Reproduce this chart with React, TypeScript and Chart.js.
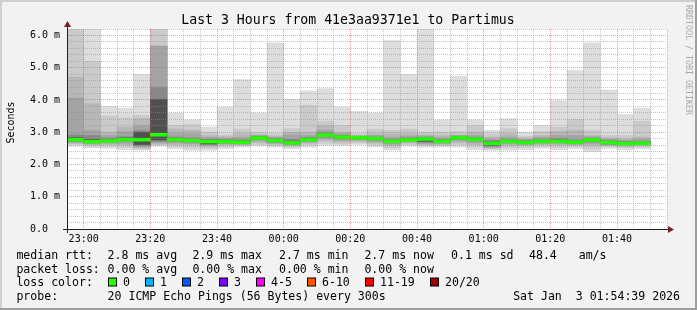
import React, { useEffect, useRef } from 'react';
import { Chart, registerables } from 'chart.js';

Chart.register(...registerables);

// ---------- text ----------
const TITLE = 'Last 3 Hours from 41e3aa9371e1 to Partimus';
const Y_TITLE = 'Seconds';
const WATERMARK = 'RRDTOOL / TOBI OETIKER';

// ---------- axis ----------
const AXIS_START = '22:55';
const AXIS_SPAN_MIN = 180;
const STEP_MIN = 5;
const Y_MAX = 6.2;
const Y_STEP = 0.2;
const majorTimeLabels = ['23:00', '23:20', '23:40', '00:00', '00:20', '00:40', '01:00', '01:20', '01:40'];
const yTickLabels = ['0.0', '1.0 m', '2.0 m', '3.0 m', '4.0 m', '5.0 m', '6.0 m'];

// ---------- data (ms), one value per 5-minute step ----------
const binTimes = [
  '22:55', '23:00', '23:05', '23:10', '23:15', '23:20', '23:25', '23:30', '23:35', '23:40', '23:45', '23:50',
  '23:55', '00:00', '00:05', '00:10', '00:15', '00:20', '00:25', '00:30', '00:35', '00:40', '00:45', '00:50',
  '00:55', '01:00', '01:05', '01:10', '01:15', '01:20', '01:25', '01:30', '01:35', '01:40', '01:45',
];
const medianMs = [2.77, 2.71, 2.73, 2.77, 2.77, 2.92, 2.77, 2.74, 2.71, 2.71, 2.69, 2.82, 2.74, 2.67, 2.77, 2.91, 2.85, 2.83, 2.80, 2.72, 2.76, 2.79, 2.72, 2.83, 2.78, 2.66, 2.72, 2.68, 2.72, 2.72, 2.69, 2.76, 2.68, 2.65, 2.66];
const maxMs = [6.3, 6.3, 3.80, 3.75, 4.79, 6.3, 3.60, 3.38, 3.16, 3.78, 4.63, 3.60, 5.77, 4.02, 4.28, 4.35, 3.78, 3.65, 3.60, 5.84, 4.79, 6.3, 3.38, 4.74, 3.38, 3.06, 3.42, 3.00, 3.21, 3.98, 4.91, 5.77, 4.31, 3.55, 3.75];
const p19Ms = [6.3, 5.2, 3.50, 3.45, 3.52, 6.3, 3.21, 3.23, 3.00, 2.92, 3.10, 3.00, 2.95, 3.11, 3.83, 3.34, 3.21, 2.95, 3.10, 3.06, 3.10, 3.00, 3.00, 3.02, 3.21, 2.95, 3.11, 2.87, 3.02, 3.16, 3.40, 3.06, 2.90, 2.90, 3.34];
const p18Ms = [4.71, 3.88, 3.00, 3.16, 3.42, 5.67, 3.10, 3.06, 2.90, 2.86, 2.95, 2.92, 2.88, 3.00, 3.00, 3.21, 3.00, 2.90, 2.95, 2.95, 2.95, 2.92, 2.90, 2.92, 3.00, 2.85, 2.95, 2.82, 2.90, 3.02, 3.06, 2.90, 2.82, 2.80, 2.85];
const p17Ms = [4.06, 3.06, 2.90, 3.02, 3.21, 5.67, 2.95, 2.95, 2.84, 2.82, 2.84, 2.90, 2.84, 2.92, 2.90, 3.06, 2.95, 2.88, 2.90, 2.85, 2.88, 2.88, 2.83, 2.90, 2.90, 2.78, 2.85, 2.78, 2.84, 2.90, 2.90, 2.86, 2.78, 2.75, 2.78];
const p15Ms = [2.92, 2.90, 2.82, 2.86, 3.05, 4.40, 2.85, 2.82, 2.78, 2.78, 2.76, 2.87, 2.80, 2.78, 2.84, 2.98, 2.90, 2.87, 2.85, 2.78, 2.82, 2.84, 2.78, 2.87, 2.84, 2.74, 2.78, 2.74, 2.78, 2.80, 2.76, 2.81, 2.74, 2.71, 2.72];
const p13Ms = [2.83, 2.78, 2.78, 2.82, 3.00, 4.02, 2.81, 2.78, 2.75, 2.75, 2.73, 2.85, 2.77, 2.72, 2.80, 2.94, 2.88, 2.85, 2.83, 2.75, 2.79, 2.82, 2.75, 2.85, 2.81, 2.71, 2.75, 2.72, 2.75, 2.76, 2.72, 2.79, 2.72, 2.69, 2.69];
const p8Ms = [2.75, 2.69, 2.71, 2.75, 2.62, 2.76, 2.74, 2.72, 2.64, 2.69, 2.67, 2.80, 2.72, 2.65, 2.75, 2.88, 2.82, 2.81, 2.78, 2.70, 2.75, 2.72, 2.70, 2.81, 2.76, 2.60, 2.70, 2.67, 2.70, 2.70, 2.67, 2.73, 2.65, 2.64, 2.64];
const p6Ms = [2.72, 2.67, 2.69, 2.72, 2.58, 2.72, 2.71, 2.69, 2.62, 2.67, 2.65, 2.77, 2.69, 2.63, 2.73, 2.85, 2.79, 2.79, 2.75, 2.67, 2.73, 2.69, 2.68, 2.78, 2.73, 2.57, 2.68, 2.65, 2.68, 2.68, 2.65, 2.70, 2.63, 2.62, 2.63];
const p4Ms = [2.69, 2.64, 2.66, 2.66, 2.55, 2.68, 2.67, 2.65, 2.59, 2.64, 2.63, 2.73, 2.66, 2.61, 2.70, 2.80, 2.75, 2.76, 2.71, 2.63, 2.71, 2.65, 2.65, 2.74, 2.68, 2.54, 2.64, 2.62, 2.65, 2.65, 2.63, 2.65, 2.61, 2.60, 2.61];
const p3Ms = [2.65, 2.61, 2.62, 2.60, 2.51, 2.64, 2.62, 2.60, 2.55, 2.60, 2.61, 2.68, 2.63, 2.58, 2.66, 2.74, 2.70, 2.72, 2.66, 2.58, 2.67, 2.61, 2.62, 2.68, 2.62, 2.51, 2.58, 2.58, 2.61, 2.60, 2.60, 2.58, 2.58, 2.56, 2.58];
const p2Ms = [2.62, 2.57, 2.56, 2.53, 2.48, 2.60, 2.55, 2.52, 2.50, 2.55, 2.58, 2.62, 2.58, 2.54, 2.60, 2.66, 2.64, 2.67, 2.60, 2.52, 2.62, 2.58, 2.58, 2.60, 2.55, 2.48, 2.52, 2.53, 2.56, 2.53, 2.55, 2.48, 2.55, 2.52, 2.54];
const minMs = [2.56, 2.52, 2.50, 2.46, 2.44, 2.57, 2.49, 2.44, 2.44, 2.49, 2.54, 2.57, 2.54, 2.49, 2.54, 2.59, 2.59, 2.62, 2.54, 2.44, 2.57, 2.54, 2.54, 2.54, 2.46, 2.44, 2.44, 2.46, 2.50, 2.46, 2.49, 2.40, 2.50, 2.46, 2.49];

// ---------- legend ----------
const rttLabel = 'median rtt:';
const rttStats = ['2.8 ms avg', '2.9 ms max', '2.7 ms min', '2.7 ms now', '0.1 ms sd', '48.4', 'am/s'];
const lossLabel = 'packet loss:';
const lossStats = ['0.00 % avg', '0.00 % max', '0.00 % min', '0.00 % now'];
const lossColorLabel = 'loss color:';
const lossColorNames = ['0', '1', '2', '3', '4-5', '6-10', '11-19', '20/20'];
const lossColors = ['#26ff00', '#00b8ff', '#0059ff', '#7e00ff', '#ff00ff', '#ff5500', '#ff0000', '#a10000'];
const probeLabel = 'probe:';
const probeText = '20 ICMP Echo Pings (56 Bytes) every 300s';
const dateText = 'Sat Jan  3 01:54:39 2026';

// ---------- layout constants ----------
const W = 697;
const H = 310;
const MONO = '"DejaVu Sans Mono", monospace';
const MEDIAN_HALF = 0.045;
const rttX = [107.6, 192.4, 279, 364.4, 451, 529, 578.7];
const lossX = [107.6, 192.4, 279, 364.4];
const boxX = [108, 145, 182, 219, 256, 307, 365, 430];

function startParts() {
  const [h, m] = AXIS_START.split(':').map(Number);
  return h * 60 + m;
}
function toMinutes(t: string) {
  const [h, m] = t.split(':').map(Number);
  return (h * 60 + m - startParts() + 1440) % 1440;
}
function fromMinutes(v: number) {
  const tot = (startParts() + Math.round(v)) % 1440;
  const h = Math.floor(tot / 60);
  const m = tot % 60;
  return String(h).padStart(2, '0') + ':' + String(m).padStart(2, '0');
}

const bands = [
  { lo: minMs, hi: maxMs, color: '#dddddd' },
  { lo: p2Ms, hi: p19Ms, color: '#cacaca' },
  { lo: p3Ms, hi: p18Ms, color: '#b7b7b7' },
  { lo: p4Ms, hi: p17Ms, color: '#a4a4a4' },
  { lo: p6Ms, hi: p15Ms, color: '#888888' },
  { lo: p8Ms, hi: p13Ms, color: '#505050' },
];

const rrdPlugin = {
  id: 'rrdFrame',
  beforeDraw(chart: any) {
    const { ctx, chartArea: a } = chart;
    ctx.save();
    ctx.fillStyle = '#f2f2f2';
    ctx.fillRect(0, 0, W, H);
    ctx.fillStyle = '#cfcfcf';
    ctx.fillRect(0, 0, W, 2);
    ctx.fillRect(0, 0, 2, H);
    ctx.fillStyle = '#9e9e9e';
    ctx.fillRect(0, H - 2, W, 2);
    ctx.fillRect(W - 2, 0, 2, H);
    ctx.fillStyle = '#ffffff';
    ctx.fillRect(a.left, a.top, a.right - a.left, a.bottom - a.top);
    ctx.restore();
  },
  afterDraw(chart: any) {
    const { ctx, chartArea: a } = chart;
    const x0 = Math.round(a.left);
    const yb = Math.round(a.bottom);
    ctx.save();
    // axes
    ctx.fillStyle = '#1f1f1f';
    ctx.fillRect(x0 - 4, yb, a.right - a.left + 8, 1);
    ctx.fillRect(x0, a.top - 4, 1, a.bottom - a.top + 8);
    // arrows
    ctx.fillStyle = '#7f1f1f';
    ctx.beginPath();
    ctx.moveTo(x0 + 0.5, a.top - 8);
    ctx.lineTo(x0 - 3, a.top - 2);
    ctx.lineTo(x0 + 4, a.top - 2);
    ctx.closePath();
    ctx.fill();
    ctx.beginPath();
    ctx.moveTo(a.right + 7, yb + 0.5);
    ctx.lineTo(a.right + 1, yb - 3);
    ctx.lineTo(a.right + 1, yb + 4);
    ctx.closePath();
    ctx.fill();

    // title
    ctx.fillStyle = '#000000';
    ctx.font = '13.2px ' + MONO;
    ctx.textAlign = 'center';
    ctx.textBaseline = 'alphabetic';
    ctx.fillText(TITLE, 348, 24);

    // y title
    ctx.save();
    ctx.font = '10px ' + MONO;
    ctx.translate(11, 122.5);
    ctx.rotate(-Math.PI / 2);
    ctx.textAlign = 'center';
    ctx.textBaseline = 'middle';
    ctx.fillText(Y_TITLE, 0, 0);
    ctx.restore();

    // watermark
    ctx.save();
    ctx.font = '8.3px ' + MONO;
    ctx.fillStyle = '#a8a8a8';
    ctx.translate(688, 5);
    ctx.rotate(Math.PI / 2);
    ctx.textAlign = 'left';
    ctx.textBaseline = 'middle';
    ctx.fillText(WATERMARK, 0, 0);
    ctx.restore();

    // legend
    ctx.font = '11.55px ' + MONO;
    ctx.textAlign = 'left';
    ctx.textBaseline = 'alphabetic';
    ctx.fillStyle = '#000000';
    const rows = [259, 272.7, 286.3, 300];
    ctx.fillText(rttLabel, 16.4, rows[0]);
    rttStats.forEach((s, i) => ctx.fillText(s, rttX[i], rows[0]));
    ctx.fillText(lossLabel, 16.4, rows[1]);
    lossStats.forEach((s, i) => ctx.fillText(s, lossX[i], rows[1]));
    ctx.fillText(lossColorLabel, 16.4, rows[2]);
    lossColorNames.forEach((s, i) => {
      ctx.fillStyle = '#000000';
      ctx.fillRect(boxX[i], 277.5, 9, 9);
      ctx.fillStyle = lossColors[i];
      ctx.fillRect(boxX[i] + 1, 278.5, 7, 7);
      ctx.fillStyle = '#000000';
      ctx.fillText(s, boxX[i] + 15, rows[2]);
    });
    ctx.fillText(probeLabel, 16.4, rows[3]);
    ctx.fillText(probeText, 107.6, rows[3]);
    ctx.textAlign = 'right';
    ctx.fillText(dateText, 680, rows[3]);
    ctx.restore();
  },
};

export default function App() {
  const ref = useRef<HTMLCanvasElement | null>(null);

  useEffect(() => {
    const canvas = ref.current;
    if (!canvas) return;
    Chart.defaults.font.family = MONO;

    const datasets: any[] = bands.map((b, k) => ({
      type: 'bar',
      data: binTimes.map((t, i) => ({ x: toMinutes(t) + STEP_MIN / 2, y: [b.lo[i], b.hi[i]] })),
      backgroundColor: b.color,
      borderWidth: 0,
      borderSkipped: false,
      grouped: false,
      barPercentage: 1,
      categoryPercentage: 1,
      order: 10 - k,
    }));
    datasets.push({
      type: 'bar',
      data: binTimes.map((t, i) => ({
        x: toMinutes(t) + STEP_MIN / 2,
        y: [medianMs[i] - MEDIAN_HALF, medianMs[i] + MEDIAN_HALF],
      })),
      backgroundColor: lossColors[0],
      borderWidth: 0,
      borderSkipped: false,
      grouped: false,
      barPercentage: 1,
      categoryPercentage: 1,
      order: 0,
    });

    const isMajorX = (v: number) => majorTimeLabels.includes(fromMinutes(v));
    const isMajorY = (v: number) => Math.round(v / Y_STEP) % 5 === 0;

    const chart = new Chart(canvas, {
      type: 'bar',
      data: { datasets },
      plugins: [rrdPlugin],
      options: {
        animation: false,
        responsive: false,
        devicePixelRatio: 1,
        events: [],
        layout: { padding: { left: 0, top: 29, right: 30, bottom: 61 } },
        plugins: {
          legend: { display: false },
          tooltip: { enabled: false },
          title: { display: false },
        },
        scales: {
          x: {
            type: 'linear',
            min: 0,
            max: AXIS_SPAN_MIN,
            offset: false,
            afterFit: (s: any) => {
              s.height = 20;
            },
            ticks: {
              stepSize: STEP_MIN,
              autoSkip: false,
              maxRotation: 0,
              padding: 4,
              color: '#000000',
              font: { family: MONO, size: 10 },
              callback: (v: any) => {
                const t = fromMinutes(Number(v));
                return majorTimeLabels.includes(t) ? t : '';
              },
            },
            grid: {
              z: 1,
              offset: false,
              drawTicks: false,
              lineWidth: 1,
              color: (c: any) =>
                c.tick && isMajorX(c.tick.value) ? 'rgba(222,79,79,0.55)' : 'rgba(143,143,143,0.5)',
            },
            border: { display: false, dash: [1, 1] },
          },
          y: {
            type: 'linear',
            min: 0,
            max: Y_MAX,
            afterFit: (s: any) => {
              s.width = 67;
            },
            ticks: {
              stepSize: Y_STEP,
              autoSkip: false,
              padding: 7,
              color: '#000000',
              font: { family: MONO, size: 10 },
              callback: (v: any) => {
                const k = Math.round(Number(v) / Y_STEP);
                if (k % 5 !== 0) return '';
                const lbl = yTickLabels[k / 5];
                return lbl ? lbl.padEnd(5, ' ') : '';
              },
            },
            grid: {
              z: 1,
              drawTicks: false,
              lineWidth: 1,
              color: (c: any) =>
                c.tick && isMajorY(c.tick.value) ? 'rgba(222,79,79,0.55)' : 'rgba(143,143,143,0.5)',
            },
            border: { display: false, dash: [1, 1] },
          },
        },
      } as any,
    });

    return () => {
      chart.destroy();
    };
  }, []);

  return (
    <div style={{ position: 'fixed', left: 0, top: 0, width: W, height: H }}>
      <canvas ref={ref} width={W} height={H} style={{ display: 'block', width: W, height: H }} />
    </div>
  );
}
